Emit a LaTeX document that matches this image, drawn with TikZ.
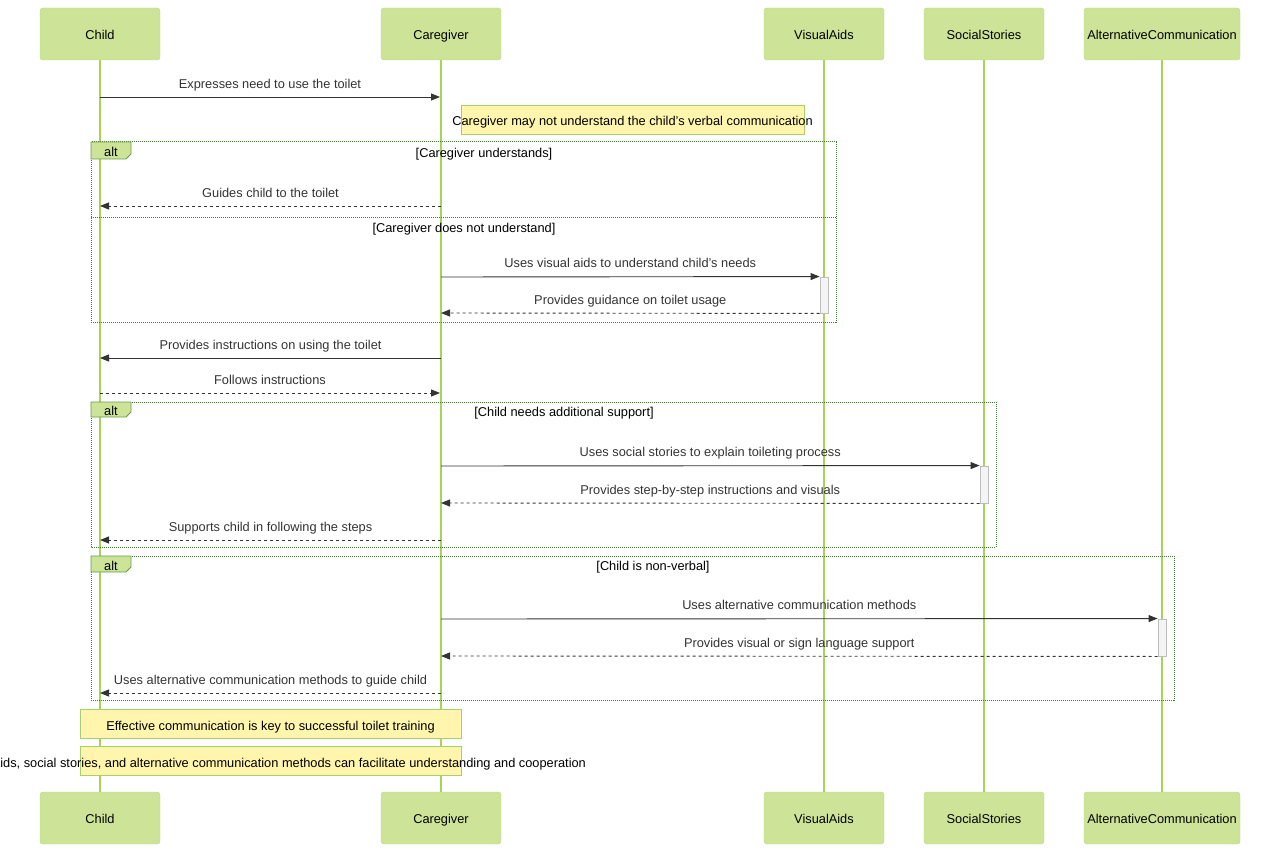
\documentclass[tikz,border=0pt]{standalone}
\usepackage{fontspec}
\setmainfont{Liberation Sans}
\usepackage{tikz}
\usetikzlibrary{arrows.meta, positioning}

\definecolor{actorfill}{HTML}{CDE498}
\definecolor{actorline}{HTML}{B5D77A}
\definecolor{lifecol}{HTML}{A9D25A}
\definecolor{framecol}{HTML}{3F7F30}
\definecolor{altline}{HTML}{6A9A4A}
\definecolor{notefill}{HTML}{FFF5AD}
\definecolor{noteline}{HTML}{A8D06A}
\definecolor{actfill}{HTML}{F4F4F4}
\definecolor{actline}{HTML}{BDBDBD}
\definecolor{msgcol}{HTML}{333333}

\newcommand{\seqfont}{\fontsize{12.8}{15}\selectfont}

\begin{document}
\begin{tikzpicture}[
    x=1pt, y=-1pt,
    actor/.style={rectangle, draw=actorline, fill=actorfill, rounded corners=3pt, minimum width=120pt, minimum height=52pt, inner sep=0pt, font=\seqfont, text=black, text height=11.3pt, text depth=0pt},
    life/.style={draw=lifecol, line width=1.2pt},
    msg/.style={draw=msgcol, line width=0.9pt, -{Triangle[length=9pt, width=7pt]}},
    reply/.style={msg, dash pattern=on 3pt off 3pt},
    lab/.style={font=\seqfont, text=msgcol, text height=9.5pt, text depth=2.5pt, inner sep=0pt},
    cond/.style={font=\seqfont, text=black, text height=9.5pt, text depth=2.5pt, inner sep=0pt},
    note/.style={rectangle, draw=noteline, fill=notefill, minimum height=29pt, inner sep=0pt, font=\seqfont, text=black},
    activ/.style={rectangle, draw=actline, fill=actfill, minimum width=8pt, inner sep=0pt, line width=0.9pt},
    frame/.style={draw=framecol, line width=1pt, dash pattern=on 1pt off 1pt},
    altlabel/.style={draw=altline, fill=actorfill, line width=0.8pt},
]
\useasboundingbox (0,0) rectangle (1280,853);

% actors
\node[actor] (child) at (100,34) {Child};
\node[actor] (carer) at (441,34) {Caregiver};
\node[actor] (visual) at (824,34) {VisualAids};
\node[actor] (social) at (984,34) {SocialStories};
\node[actor, minimum width=156pt] (altcom) at (1162,34) {AlternativeCommunication};

\node[actor] (childb) at (100,818) {Child};
\node[actor] (carerb) at (441,818) {Caregiver};
\node[actor] (visualb) at (824,818) {VisualAids};
\node[actor] (socialb) at (984,818) {SocialStories};
\node[actor, minimum width=156pt] (altcomb) at (1162,818) {AlternativeCommunication};

% lifelines
\draw[life] (child.south) -- (childb.north);
\draw[life] (carer.south) -- (carerb.north);
\draw[life] (visual.south) -- (visualb.north);
\draw[life] (social.south) -- (socialb.north);
\draw[life] (altcom.south) -- (altcomb.north);

% message end points
\coordinate (ch1) at (100,97);  \coordinate (cg1) at (440,97);
\coordinate (cg2) at (441,206); \coordinate (ch2) at (100,206);
\coordinate (cg3) at (441,277); \coordinate (cg4) at (441,313);
\coordinate (cg5) at (441,358); \coordinate (ch5) at (100,358);
\coordinate (ch6) at (100,393); \coordinate (cg6) at (440,393);
\coordinate (cg7) at (441,466); \coordinate (cg8) at (441,503);
\coordinate (cg9) at (441,540); \coordinate (ch9) at (100,540);
\coordinate (cg10) at (441,619); \coordinate (cg11) at (441,656);
\coordinate (cg12) at (441,693); \coordinate (ch12) at (100,693);

% activations
\node[activ, minimum height=36pt] (actvisual) at (824,295) {};
\node[activ, minimum height=37pt] (actsocial) at (984,484.5) {};
\node[activ, minimum height=37pt] (actaltcom) at (1162,637.5) {};

% first message and note
\draw[msg] (ch1) -- (cg1) node[lab, midway, above=6pt] {Expresses need to use the toilet};
\node[note, minimum width=343pt] (note1) at (632.5,119.5) {};
\node[lab, text=black, yshift=-3pt] (note1txt) at (note1.center) {Caregiver may not understand the child's verbal communication};

% alt 1
\draw[frame] (91,142) rectangle (836,322);
\draw[frame] (91,218) -- (836,218);
\draw[altlabel] (91,142) -- (131,142) -- (131,154) -- (126,159) -- (91,159) -- cycle;
\node[cond] (alt1) at (111,153) {alt};
\node[cond] (cond1) at (484,154) {[Caregiver understands]};
\node[cond] (cond2) at (464,229) {[Caregiver does not understand]};

\draw[reply] (cg2) -- (ch2) node[lab, midway, above=6pt] {Guides child to the toilet};
\draw[msg] (cg3) -- (actvisual.north west) node[lab, midway, above=6pt] {Uses visual aids to understand child's needs};
\draw[reply] (actvisual.south west) -- (cg4) node[lab, midway, above=6pt] {Provides guidance on toilet usage};

\draw[msg] (cg5) -- (ch5) node[lab, midway, above=6pt] {Provides instructions on using the toilet};
\draw[reply] (ch6) -- (cg6) node[lab, midway, above=6pt] {Follows instructions};

% alt 2
\draw[frame] (91,402) rectangle (996,547);
\draw[altlabel] (91,402) -- (131,402) -- (131,412) -- (126,417) -- (91,417) -- cycle;
\node[cond] (alt2) at (111,412) {alt};
\node[cond] (cond3) at (564,413) {[Child needs additional support]};

\draw[msg] (cg7) -- (actsocial.north west) node[lab, midway, above=6pt] {Uses social stories to explain toileting process};
\draw[reply] (actsocial.south west) -- (cg8) node[lab, midway, above=6pt] {Provides step-by-step instructions and visuals};
\draw[reply] (cg9) -- (ch9) node[lab, midway, above=6pt] {Supports child in following the steps};

% alt 3
\draw[frame] (91,556) rectangle (1174,700);
\draw[altlabel] (91,556) -- (131,556) -- (131,567) -- (126,572) -- (91,572) -- cycle;
\node[cond] (alt3) at (111,567) {alt};
\node[cond] (cond4) at (653,567) {[Child is non-verbal]};

\draw[msg] (cg10) -- (actaltcom.north west) node[lab, midway, above=6pt] {Uses alternative communication methods};
\draw[reply] (actaltcom.south west) -- (cg11) node[lab, midway, above=6pt] {Provides visual or sign language support};
\draw[reply] (cg12) -- (ch12) node[lab, midway, above=6pt] {Uses alternative communication methods to guide child};

% closing notes
\node[note, minimum width=381pt] (note2) at (270.5,723.5) {};
\node[lab, text=black, yshift=-3pt] (note2txt) at (note2.center) {Effective communication is key to successful toilet training};
\node[note, minimum width=381pt] (note3) at (270.5,761) {};
\node[lab, text=black, yshift=-3pt] (note3txt) at (note3.center) {Visual aids, social stories, and alternative communication methods can facilitate understanding and cooperation};

\end{tikzpicture}
\end{document}
